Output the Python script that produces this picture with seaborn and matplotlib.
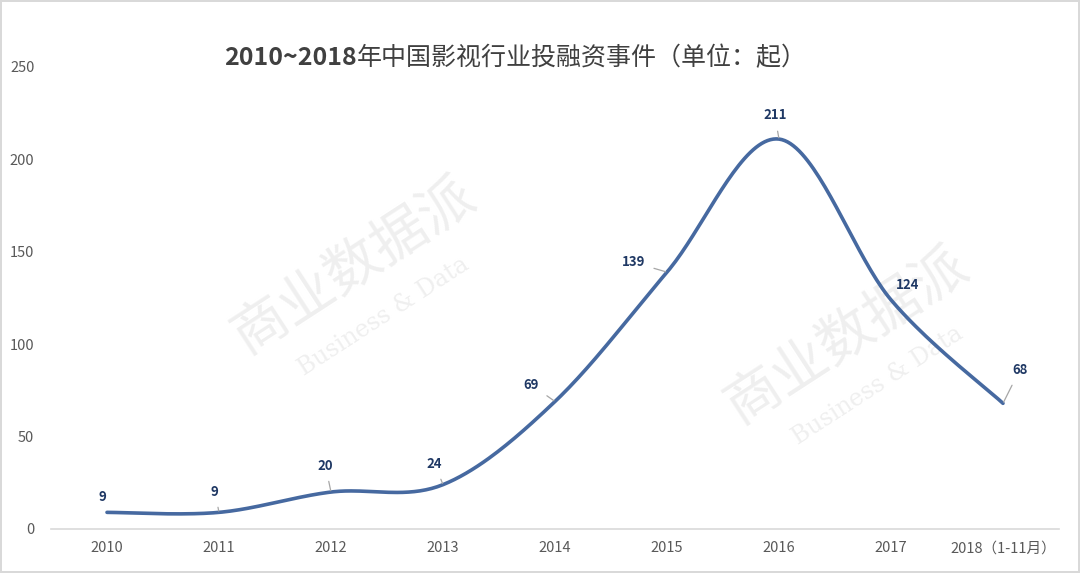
import numpy as np
import pandas as pd
import matplotlib
matplotlib.use("Agg")
import matplotlib.pyplot as plt
import seaborn as sns

# ---- data ----
years = ["2010", "2011", "2012", "2013", "2014", "2015", "2016", "2017", "2018（1-11月）"]
events = [9, 9, 20, 24, 69, 139, 211, 124, 68]
# label offsets (points) relative to each data point
label_dx = [-3, -3, -4, -6, -17, -24, -3, 12, 12]
label_dy = [11, 15, 19, 15, 12, 7, 17, 11, 24]
label_leader = [False, True, True, True, True, True, True, False, True]
y_ticks = [0, 50, 100, 150, 200, 250]
title_num = "2010~2018"
title_txt = "年中国影视行业投融资事件（单位：起）"

sns.set_theme(style="white")
plt.rcParams["font.family"] = ["Noto Sans CJK SC", "DejaVu Sans"]

df = pd.DataFrame({"year": years, "events": events})
df["pos"] = np.arange(len(df))

fig = plt.figure(figsize=(10.8, 5.73), dpi=100)
fig.patch.set_edgecolor("#d9d9d9")
fig.patch.set_linewidth(1.5)
ax = fig.add_axes([51 / 1080, 1 - 529 / 573, 1008 / 1080, 462 / 573])

# smooth curve (Excel-style bezier smoothing) through the data points
x = df["pos"].to_numpy(dtype=float)
y = df["events"].to_numpy(dtype=float)
n = len(x)
xs, ys = [], []
t = np.linspace(0, 1, 40)
for i in range(n - 1):
    p0 = np.array([x[i], y[i]])
    p3 = np.array([x[i + 1], y[i + 1]])
    pm = np.array([x[i - 1], y[i - 1]]) if i > 0 else p0
    pp = np.array([x[i + 2], y[i + 2]]) if i + 2 < n else p3
    c1 = p0 + (p3 - pm) / 6
    c2 = p3 - (pp - p0) / 6
    b = ((1 - t) ** 3)[:, None] * p0 + (3 * (1 - t) ** 2 * t)[:, None] * c1 \
        + (3 * (1 - t) * t ** 2)[:, None] * c2 + (t ** 3)[:, None] * p3
    xs.extend(b[:, 0])
    ys.extend(b[:, 1])
curve = pd.DataFrame({"x": xs, "y": ys})
sns.lineplot(data=curve, x="x", y="y", ax=ax, color="#4669A0", linewidth=2.6,
             sort=False, estimator=None)

# data labels
for i, row in df.iterrows():
    ann = dict(xy=(row["pos"], row["events"]), xytext=(label_dx[i], label_dy[i]),
               textcoords="offset points", ha="center", va="center",
               fontsize=9.5, fontweight="bold", color="#1F3864")
    if label_leader[i]:
        ann["arrowprops"] = dict(arrowstyle="-", color="#a6a6a6", lw=0.9,
                                 shrinkA=4, shrinkB=1)
    ax.annotate(str(row["events"]), **ann)

# watermark
for (wx, wy) in [(0.3, 0.57), (0.79, 0.42)]:
    ax.text(wx, wy, "商业数据派", transform=ax.transAxes, rotation=33,
            fontsize=40, color="#efefef", ha="center", va="center", zorder=0)
    ax.text(wx + 0.03, wy - 0.11, "Business & Data", transform=ax.transAxes,
            rotation=33, fontsize=17, color="#efefef", ha="center", va="center",
            family="DejaVu Serif", zorder=0)

ax.set_xlim(-0.5, n - 0.5)
ax.set_ylim(0, 250)
ax.set_xticks(df["pos"])
ax.set_xticklabels(years)
ax.set_yticks(y_ticks)
ax.tick_params(axis="both", length=0, labelsize=10.5, labelcolor="#595959")
ax.tick_params(axis="y", pad=12)
ax.tick_params(axis="x", pad=9)
ax.set_xlabel("")
ax.set_ylabel("")
for s in ["top", "right", "left"]:
    ax.spines[s].set_visible(False)
ax.spines["bottom"].set_color("#d9d9d9")
ax.spines["bottom"].set_linewidth(1.2)
ax.grid(False)

# title: bold numerals + regular Chinese text, centred as a whole
renderer = fig.canvas.get_renderer()
ty = 1 - 58 / 573
t1 = fig.text(0, ty, title_num, ha="left", va="center", fontsize=18,
              color="#404040", fontweight="bold")
t2 = fig.text(0, ty, title_txt, ha="left", va="center", fontsize=18,
              color="#404040")
w1 = t1.get_window_extent(renderer).width / fig.bbox.width
w2 = t2.get_window_extent(renderer).width / fig.bbox.width
x0 = 515 / 1080 - (w1 + w2) / 2
t1.set_x(x0)
t2.set_x(x0 + w1)

fig.savefig("out.png", dpi=100)
